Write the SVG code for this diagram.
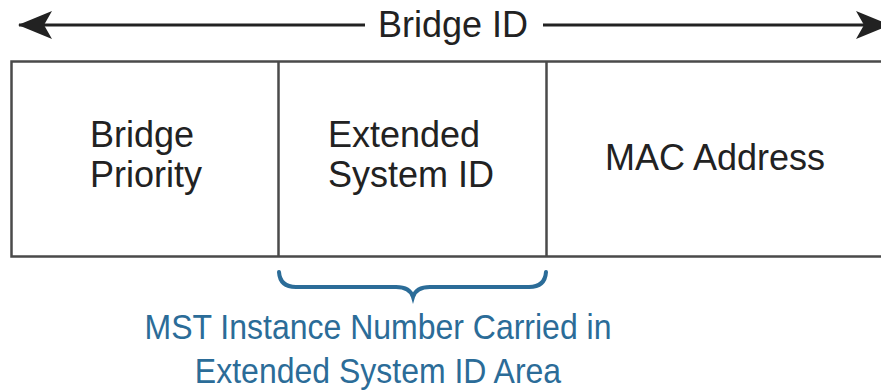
<svg xmlns="http://www.w3.org/2000/svg" width="881" height="391" viewBox="0 0 881 391">
<style>
.t{font-family:"Liberation Sans",Arial,sans-serif;font-size:36px;fill:#222}
.b{font-family:"Liberation Sans",Arial,sans-serif;font-size:32px;fill:#2b6c98}
.box{stroke:#4a4a4a;stroke-width:2.5;fill:none}
.arr{stroke:#222;stroke-width:3;fill:none}
</style>
<defs>
<marker id="ah" markerUnits="userSpaceOnUse" viewBox="0 0 34 28" refX="33" refY="14" markerWidth="34" markerHeight="28" orient="auto-start-reverse">
<path d="M0,0 L34,14 L0,28 L8,14 Z" fill="#222"/>
</marker>
</defs>
<g id="connectors">
<line class="arr" x1="19" y1="25" x2="365" y2="25" marker-start="url(#ah)"/>
<line class="arr" x1="543" y1="25" x2="889" y2="25" marker-end="url(#ah)"/>
<path d="M279 272 Q280 287 296 287 L396 287 Q410 287 413 297 Q416 287 430 287 L529 287 Q545 287 546 272" fill="none" stroke="#2b6c98" stroke-width="4" stroke-linecap="round"/>
</g>
<g id="bridge-id-label">
<text class="t" x="378" y="37">Bridge ID</text>
</g>
<g id="frame">
<path class="box" d="M881 61.5 L11.5 61.5 L11.5 256.5 L881 256.5"/>
</g>
<g id="bridge-priority">
<line class="box" x1="278.5" y1="61.5" x2="278.5" y2="256.5"/>
<text class="t" x="90" y="147">Bridge</text>
<text class="t" x="90" y="187">Priority</text>
</g>
<g id="extended-system-id">
<line class="box" x1="546.5" y1="61.5" x2="546.5" y2="256.5"/>
<text class="t" x="328" y="147">Extended</text>
<text class="t" x="328" y="187">System ID</text>
</g>
<g id="mac-address">
<text class="t" x="605" y="170">MAC Address</text>
</g>
<g id="mst-note">
<text class="b" transform="translate(378,339) scale(1,1.1)" text-anchor="middle">MST Instance Number Carried in</text>
<text class="b" transform="translate(378,383) scale(1,1.1)" text-anchor="middle">Extended System ID Area</text>
</g>
</svg>
